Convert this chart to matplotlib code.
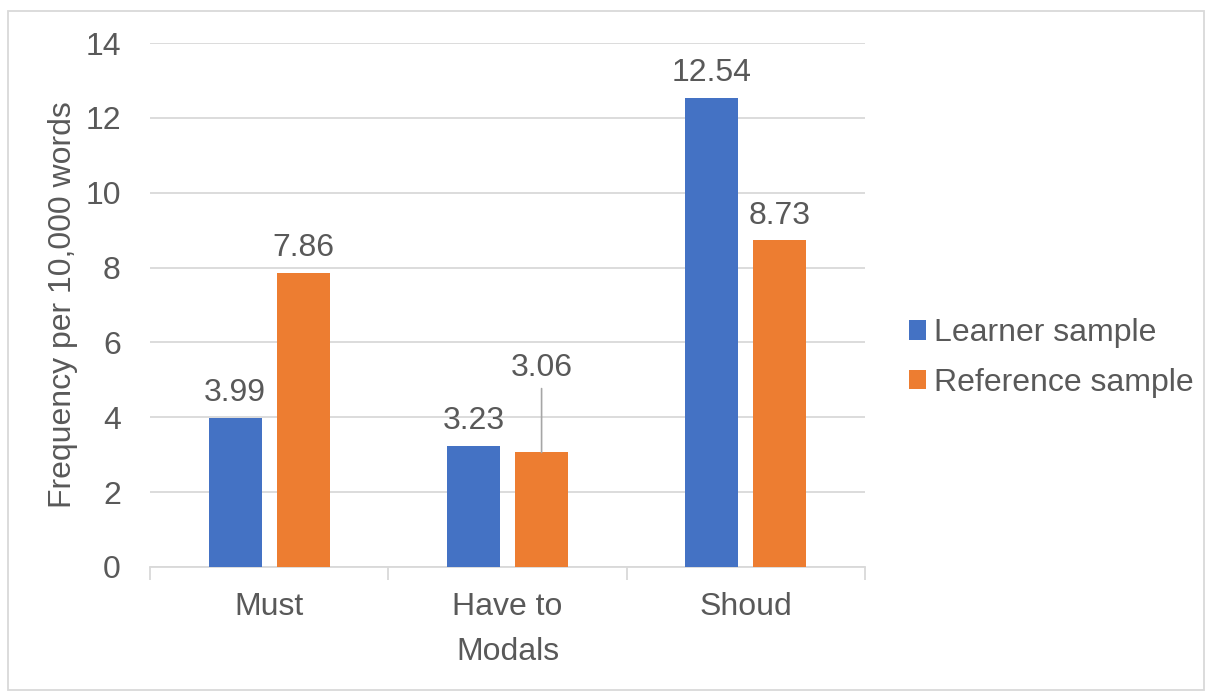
import matplotlib
matplotlib.use("Agg")
import matplotlib.pyplot as plt
from matplotlib.patches import Rectangle
import numpy as np

categories = ["Must", "Have to", "Shoud"]
learner = [3.99, 3.23, 12.54]
reference = [7.86, 3.06, 8.73]
series_names = ["Learner sample", "Reference sample"]
yticks = [0, 2, 4, 6, 8, 10, 12, 14]

BLUE = "#4472C4"
ORANGE = "#ED7D31"
TEXT = "#595959"
GRID = "#D9D9D9"

plt.rcParams["font.family"] = ["Liberation Sans", "DejaVu Sans"]
FS = 23

fig = plt.figure(figsize=(12.08, 6.93), dpi=100)
ax = fig.add_axes([150 / 1208, 1 - 567 / 693, 715 / 1208, (567 - 43) / 693])

x = np.arange(len(categories))
w = 0.222
off = 0.143
b1 = ax.bar(x - off, learner, w, color=BLUE, label=series_names[0], zorder=3)
b2 = ax.bar(x + off, reference, w, color=ORANGE, label=series_names[1], zorder=3)

ax.set_xlim(-0.5, 2.5)
ax.set_ylim(0, 14)
ax.set_yticks(yticks)
ax.set_yticklabels([str(t) for t in yticks])
ax.yaxis.grid(True, color=GRID, linewidth=1.3, zorder=0)
ax.tick_params(axis="y", length=0, pad=21, labelsize=FS, labelcolor=TEXT)

# category labels centred, boundary tick marks
ax.set_xticks(x)
ax.set_xticklabels(categories)
ax.tick_params(axis="x", length=0, pad=18, labelsize=FS, labelcolor=TEXT)
ax.set_xticks([-0.5, 0.5, 1.5, 2.5], minor=True)
ax.tick_params(axis="x", which="minor", length=9, width=1.3, color=GRID)

for s in ["top", "right", "left"]:
    ax.spines[s].set_visible(False)
ax.spines["bottom"].set_color(GRID)
ax.spines["bottom"].set_linewidth(1.3)

ax.set_ylabel("Frequency per 10,000 words", fontsize=FS, color=TEXT, labelpad=5)
ax.set_xlabel("Modals", fontsize=FS, color=TEXT, labelpad=11)

# value labels
for xi, v in zip(x - off, learner):
    ax.annotate(f"{v:.2f}", (xi, v), xytext=(0, 7), textcoords="offset points",
                ha="center", va="bottom", fontsize=FS, color=TEXT)
for i, (xi, v) in enumerate(zip(x + off, reference)):
    if i == 1:
        ax.annotate(f"{v:.2f}", (xi, v), xytext=(0, 50), textcoords="offset points",
                    ha="center", va="bottom", fontsize=FS, color=TEXT,
                    arrowprops=dict(arrowstyle="-", color="#A6A6A6", lw=1.2,
                                    shrinkA=2, shrinkB=0))
    else:
        ax.annotate(f"{v:.2f}", (xi, v), xytext=(0, 7), textcoords="offset points",
                    ha="center", va="bottom", fontsize=FS, color=TEXT)

leg = fig.legend(handles=[b1, b2], loc="center left",
                 bbox_to_anchor=(880 / 1208, 1 - 358 / 693), frameon=False,
                 fontsize=FS, handlelength=0.55, handleheight=0.55,
                 handletextpad=0.25, labelspacing=0.6)
for t in leg.get_texts():
    t.set_color(TEXT)

fig.patches.append(Rectangle((8 / 1208, 3 / 693), 1196 / 1208, 679 / 693,
                             transform=fig.transFigure, fill=False,
                             edgecolor=GRID, linewidth=1.3))

fig.savefig("out.png", dpi=100)
